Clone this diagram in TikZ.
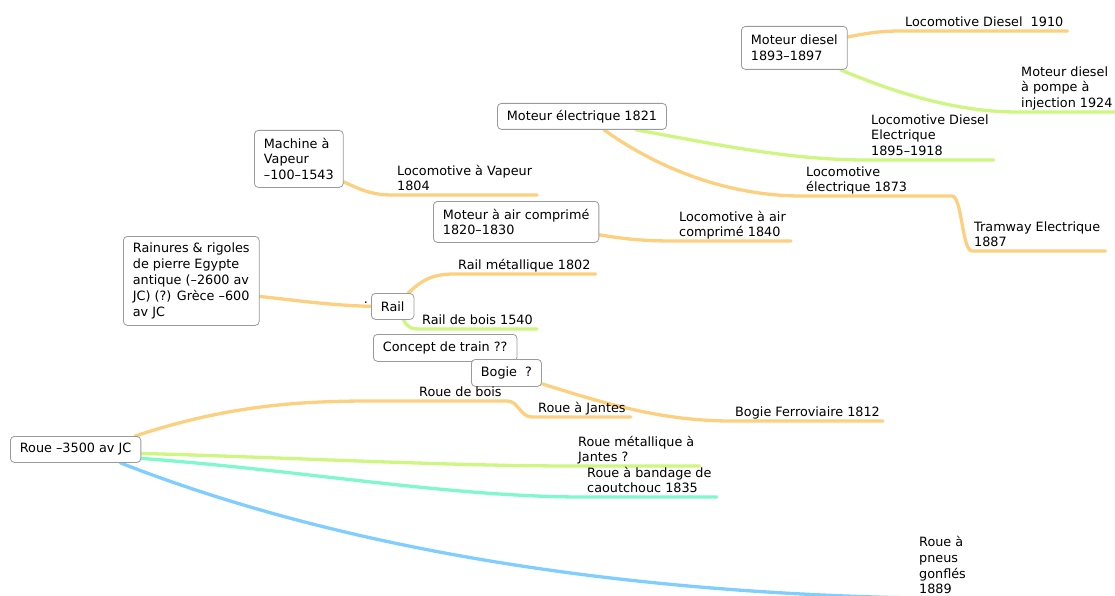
\documentclass[tikz,border=0pt]{standalone}
\usepackage{fontspec}
\setmainfont{DejaVu Sans}
\usetikzlibrary{backgrounds}

\definecolor{branchorange}{RGB}{253,208,127}
\definecolor{branchlime}{RGB}{206,246,128}
\definecolor{branchteal}{RGB}{128,248,205}
\definecolor{branchblue}{RGB}{128,206,255}
\definecolor{boxline}{RGB}{155,155,155}

\newcommand\lbl{\fontsize{12.8}{15.8}\selectfont}

\tikzset{
  topic/.style={draw=boxline, line width=0.8pt, rounded corners=4pt, fill=white,
    align=left, inner xsep=9.5pt, inner ysep=5pt, anchor=north west, font=\lbl},
  leaf/.style={inner sep=0pt, align=left, anchor=south west, font=\lbl,
    execute at end node={\rule[-4pt]{0pt}{4pt}}},
  branch/.style={line width=3.3pt, line cap=round},
}

\begin{document}
\begin{tikzpicture}[x=1pt, y=-1pt]
\useasboundingbox (0,0) rectangle (1115,596);
\clip (0,0) rectangle (1115,596);

% topics (boxed)
\node[topic, minimum height=43pt] (md) at (741,26) {Moteur diesel\\1893–1897};
\node[topic, minimum height=26pt] (me) at (497,103) {Moteur électrique 1821};
\node[topic, minimum height=57pt] (mv) at (254,130) {Machine à\\Vapeur\\–100–1543};
\node[topic, minimum height=41pt] (ma) at (433,201) {Moteur à air comprimé\\1820–1830};
\node[topic, minimum height=89pt] (rn) at (123,236) {Rainures \& rigoles\\de pierre Egypte\\antique (–2600 av\\JC) (?) Grèce –600\\av JC};
\node[topic, minimum height=26pt] (rail) at (371,293) {Rail};
\node[topic, minimum height=27pt] (ct) at (373,334) {Concept de train ??};
\node[topic, minimum height=27pt] (bg) at (471,359) {Bogie~ ?};
\node[topic, minimum height=26pt] (roue) at (10,436) {Roue –3500 av JC};

% leaves (text sitting on their branch)
\node[leaf] (l1910) at (905,31) {Locomotive Diesel~ 1910};
\node[leaf] (lpompe) at (1021,112) {Moteur diesel\\à pompe à\\injection 1924};
\node[leaf] (lde) at (871,160) {Locomotive Diesel\\Electrique\\1895–1918};
\node[leaf] (lle) at (806,196) {Locomotive\\électrique 1873};
\node[leaf] (ltram) at (974,251) {Tramway Electrique\\1887};
\node[leaf] (llv) at (397,195) {Locomotive à Vapeur\\1804};
\node[leaf] (lair) at (679,241) {Locomotive à air\\comprimé 1840};
\node[leaf] (lrm) at (458,274) {Rail métallique 1802};
\node[leaf] (lrb) at (422,329) {Rail de bois 1540};
\node[leaf] (lbf) at (735,421) {Bogie Ferroviaire 1812};
\node[leaf] (lrdb) at (419,401) {Roue de bois};
\node[leaf] (lraj) at (538,417) {Roue à Jantes};
\node[leaf] (lrmj) at (578,466) {Roue métallique à\\Jantes ?};
\node[leaf] (lrbc) at (587,497) {Roue à bandage de\\caoutchouc 1835};
\node[leaf] (lpn) at (919,598) {Roue à\\pneus\\gonflés\\1889};

\node[font=\lbl, inner sep=0pt, anchor=base] (dot) at (366,303) {.};

\coordinate (tbend) at (952,196);

\begin{scope}[on background layer]
  % diesel engine
  \draw[branch, branchorange] ([yshift=-11pt]md.north east)
    .. controls (872,32) and (885,31) .. ([xshift=-4pt]l1910.south west)
    -- ([xshift=4pt]l1910.south east);
  \draw[branch, branchlime] ([xshift=-7pt]md.south east)
    .. controls (900,95) and (960,112) .. ([xshift=-4pt]lpompe.south west)
    -- ([xshift=5pt]lpompe.south east);
  % electric motor
  \draw[branch, branchlime] ([xshift=-31pt]me.south east)
    .. controls (720,145) and (790,160) .. ([xshift=-4pt]lde.south west)
    -- ([xshift=5pt]lde.south east);
  \draw[branch, branchorange] ([xshift=-63pt]me.south east)
    .. controls (660,170) and (730,196) .. ([xshift=-4pt]lle.south west)
    -- (tbend)
    .. controls (962,196) and (962,251) .. ([xshift=-2pt]ltram.south west)
    -- ([xshift=5pt]ltram.south east);
  % steam engine
  \draw[branch, branchorange] ([yshift=6pt]mv.south east)
    .. controls (365,192) and (375,195) .. ([xshift=-4pt]llv.south west)
    -- ([xshift=5pt]llv.south east);
  % compressed air
  \draw[branch, branchorange] ([yshift=8pt]ma.south east)
    .. controls (630,240) and (650,241) .. ([xshift=-4pt]lair.south west)
    -- ([xshift=5pt]lair.south east);
  % rails
  \draw[branch, branchorange] ([yshift=-15.5pt]rn.east)
    .. controls (310,302) and (330,305) .. (rail.west);
  \draw[branch, branchorange] ([xshift=-6pt]rail.north east)
    .. controls (420,282) and (430,274) .. ([xshift=-4pt]lrm.south west)
    -- ([xshift=5pt]lrm.south east);
  \draw[branch, branchlime] ([xshift=-11pt]rail.south east)
    .. controls (408,328) and (412,329) .. ([xshift=-4pt]lrb.south west)
    -- ([xshift=4pt]lrb.south east);
  % bogie
  \draw[branch, branchorange] ([yshift=3pt]bg.south east)
    .. controls (600,402) and (660,421) .. ([xshift=-4pt]lbf.south west)
    -- ([xshift=3pt]lbf.south east);
  % wheel
  \draw[branch, branchorange] ([xshift=-6pt]roue.north east)
    .. controls (250,398) and (330,401) .. ([xshift=-4pt]lrdb.south west)
    -- ([xshift=5pt]lrdb.south east)
    .. controls +(12,0) and +(-12,0) .. ([xshift=-6pt]lraj.south west)
    -- ([xshift=5pt]lraj.south east);
  \draw[branch, branchlime] ([yshift=-4pt]roue.east)
    .. controls (300,458) and (450,466) .. ([xshift=-4pt]lrmj.south west)
    -- ([xshift=5pt]lrmj.south east);
  \draw[branch, branchteal] ([yshift=-9pt]roue.east)
    .. controls (300,470) and (450,497) .. ([xshift=-4pt]lrbc.south west)
    -- ([xshift=5pt]lrbc.south east);
  \draw[branch, branchblue] ([xshift=-21pt]roue.south east)
    .. controls (330,545) and (600,592) .. ([xshift=-4pt]lpn.south west)
    -- ([xshift=5pt]lpn.south east);
\end{scope}
\end{tikzpicture}
\end{document}
